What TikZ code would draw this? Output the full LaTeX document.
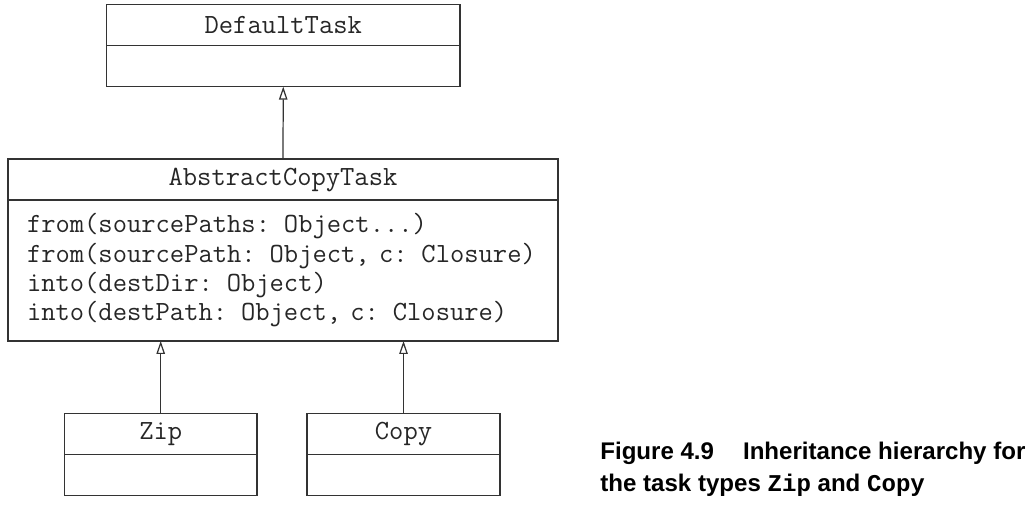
\documentclass[tikz,border=0pt]{standalone}
\usepackage{fontspec}
\setmainfont{Liberation Serif}
\setsansfont{Liberation Sans}
\newfontfamily\capmono{Liberation Mono}
\usepackage{tikz}
\usetikzlibrary{
arrows.meta,
positioning
}

\tikzset{
  umlhead/.style={rectangle, draw=black!80, line width=0.7pt, inner sep=0pt, outer sep=0pt,
    minimum height=0.82cm, text=black!85, font=\fontsize{15.8}{17}\selectfont\ttfamily},
  umlbody/.style={rectangle, draw=black!80, line width=0.7pt, inner sep=0pt, outer sep=0pt,
    minimum height=0.82cm},
  inherit/.style={-{Triangle[open, length=0.26cm, width=0.17cm]}, draw=black!80, line width=0.7pt}
}

\begin{document}
\begin{tikzpicture}

    \useasboundingbox (0,0) rectangle (20.62,10.14);

    % ==================== CLASS BOXES ====================
    % Top class
    \node [umlhead, minimum width=7.07cm] (defhead) at (5.665, 9.636) {DefaultTask};
    \node [umlbody, minimum width=7.07cm, below=0pt of defhead] (defbody) {};

    % Middle class with its methods
    \node [umlhead, minimum width=11cm] (abshead) at (5.66, 6.55) {AbstractCopyTask};
    \node [umlbody, below=0pt of abshead, minimum height=2.82cm, text width=10.24cm,
      inner xsep=0.38cm, align=left, text=black!85,
      font=\fontsize{15.8}{16.7}\selectfont\ttfamily] (absbody)
      {from(sourcePaths: Object...)\\
       from(sourcePath: Object, c: Closure)\\
       into(destDir: Object)\\
       into(destPath: Object, c: Closure)};

    % Bottom left class
    \node [umlhead, minimum width=3.85cm] (ziphead) at (3.214, 1.46) {Zip};
    \node [umlbody, minimum width=3.85cm, below=0pt of ziphead] (zipbody) {};

    % Bottom right class
    \node [umlhead, minimum width=3.86cm] (copyhead) at (8.07, 1.46) {Copy};
    \node [umlbody, minimum width=3.86cm, below=0pt of copyhead] (copybody) {};


    % ==================== INHERITANCE ARROWS ====================
    \draw [inherit] (abshead.north) -- (defbody.south);
    \draw [inherit] (ziphead.north) -- (ziphead.north |- absbody.south);
    \draw [inherit] (copyhead.north) -- (copyhead.north |- absbody.south);


    % ==================== CAPTION ====================
    \node [anchor=west, align=left, inner sep=0pt,
      font=\fontsize{13.7}{18.2}\selectfont\sffamily\bfseries] (caption) at (12.0, 0.76)
      {Figure 4.9\hspace{0.58cm}Inheritance hierarchy for\\
       the task types {\capmono\bfseries Zip} and {\capmono\bfseries Copy}};

\end{tikzpicture}
\end{document}
